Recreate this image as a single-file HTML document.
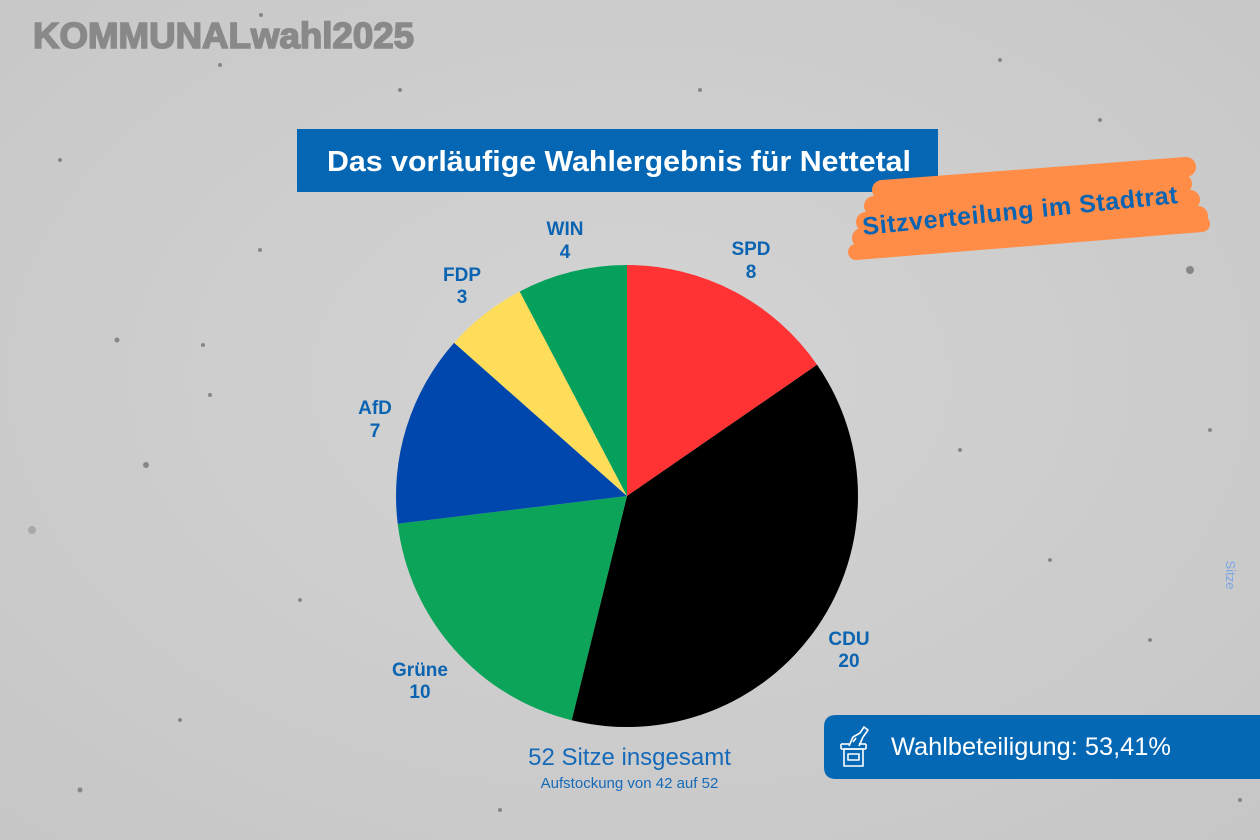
<!DOCTYPE html>
<html>
<head>
<meta charset="utf-8">
<style>
html,body{margin:0;padding:0;}
body{width:1260px;height:840px;overflow:hidden;background:#cecece;}
svg{display:block;}
</style>
</head>
<body>
<svg width="1260" height="840" viewBox="0 0 1260 840" xmlns="http://www.w3.org/2000/svg">
  <defs>
    <radialGradient id="bg" cx="50%" cy="45%" r="75%">
      <stop offset="0" stop-color="#d4d4d4"/>
      <stop offset="1" stop-color="#c6c6c6"/>
    </radialGradient>
  </defs>
  <rect x="0" y="0" width="1260" height="840" fill="url(#bg)"/>
  <!-- concrete specks -->
  <g fill="#6a6a6a" opacity="0.7">
    <circle cx="117" cy="340" r="2.5"/><circle cx="146" cy="465" r="3"/><circle cx="203" cy="345" r="2"/>
    <circle cx="210" cy="395" r="2"/><circle cx="32" cy="530" r="4" fill="#9a9a9a"/><circle cx="220" cy="65" r="2"/>
    <circle cx="261" cy="15" r="2"/><circle cx="1190" cy="270" r="4"/><circle cx="1210" cy="430" r="2"/>
    <circle cx="1100" cy="120" r="2"/><circle cx="1000" cy="60" r="2"/><circle cx="300" cy="600" r="2"/>
    <circle cx="180" cy="720" r="2"/><circle cx="80" cy="790" r="2.5"/><circle cx="960" cy="450" r="2"/>
    <circle cx="1050" cy="560" r="2"/><circle cx="700" cy="90" r="2"/><circle cx="500" cy="810" r="2"/>
    <circle cx="940" cy="720" r="2"/><circle cx="1240" cy="800" r="2"/><circle cx="260" cy="250" r="2"/>
    <circle cx="400" cy="90" r="2"/><circle cx="1150" cy="640" r="2"/><circle cx="60" cy="160" r="2"/>
  </g>

  <!-- Logo -->
  <text x="33" y="48" font-family="'Liberation Sans', Arial, sans-serif" font-weight="bold" font-size="36" fill="#898989" stroke="#898989" stroke-width="1.6" textLength="381" lengthAdjust="spacingAndGlyphs">KOMMUNALwahl2025</text>

  <!-- Title box -->
  <rect x="297" y="129" width="641" height="63" fill="#0567b4"/>
  <text x="619" y="171" text-anchor="middle" font-family="'Liberation Sans', Arial, sans-serif" font-weight="bold" font-size="29" fill="#ffffff" textLength="584" lengthAdjust="spacingAndGlyphs">Das vorläufige Wahlergebnis für Nettetal</text>

  <!-- Orange brush -->
  <g stroke="#ff8d48" stroke-linecap="round" fill="none">
    <line x1="882" y1="190" x2="1186" y2="167" stroke-width="20"/>
    <line x1="874" y1="206" x2="1182" y2="184" stroke-width="20"/>
    <line x1="866" y1="222" x2="1190" y2="200" stroke-width="20"/>
    <line x1="862" y1="238" x2="1198" y2="216" stroke-width="20"/>
    <line x1="856" y1="252" x2="1202" y2="224" stroke-width="16"/>
  </g>
  <text x="1021" y="219" text-anchor="middle" transform="rotate(-5.8 1021 219)" font-family="'Liberation Sans', Arial, sans-serif" font-weight="bold" font-size="25" fill="#0a64b2" letter-spacing="0.6">Sitzverteilung im Stadtrat</text>

  <!-- Pie -->
  <g>
    <path d="M627,496 L627,265 A231,231 0 0 1 817.1,364.8 Z" fill="#ff3333"/>
    <path d="M627,496 L817.1,364.8 A231,231 0 0 1 571.7,720.3 Z" fill="#000000"/>
    <path d="M627,496 L571.7,720.3 A231,231 0 0 1 397.7,523.8 Z" fill="#0ca459"/>
    <path d="M627,496 L397.7,523.8 A231,231 0 0 1 454.1,342.8 Z" fill="#0047ad"/>
    <path d="M627,496 L454.1,342.8 A231,231 0 0 1 519.7,291.5 Z" fill="#fedd5b"/>
    <path d="M627,496 L519.7,291.5 A231,231 0 0 1 627,265 Z" fill="#05a15c"/>
  </g>

  <!-- Labels -->
  <g font-family="'Liberation Sans', Arial, sans-serif" font-weight="bold" font-size="19" fill="#0b64b1" text-anchor="middle">
    <text x="565" y="235">WIN</text><text x="565" y="258">4</text>
    <text x="751" y="255">SPD</text><text x="751" y="278">8</text>
    <text x="462" y="281">FDP</text><text x="462" y="303">3</text>
    <text x="375" y="414">AfD</text><text x="375" y="437">7</text>
    <text x="420" y="676">Grüne</text><text x="420" y="698">10</text>
    <text x="849" y="645">CDU</text><text x="849" y="667">20</text>
  </g>

  <!-- bottom text -->
  <text x="629.5" y="765" text-anchor="middle" font-family="'Liberation Sans', Arial, sans-serif" font-size="24" fill="#166ab8">52 Sitze insgesamt</text>
  <text x="629.5" y="788" text-anchor="middle" font-family="'Liberation Sans', Arial, sans-serif" font-size="15" fill="#166ab8">Aufstockung von 42 auf 52</text>

  <!-- Sitze rotated -->
  <text x="1226" y="575" text-anchor="middle" transform="rotate(90 1226 575)" font-family="'Liberation Sans', Arial, sans-serif" font-size="13" fill="#7aa6e6">Sitze</text>

  <!-- Wahlbeteiligung box -->
  <path d="M836,715 L1260,715 L1260,779 L836,779 Q824,779 824,767 L824,727 Q824,715 836,715 Z" fill="#0568b5"/>
  <g fill="none" stroke="#ffffff" stroke-width="1.6" stroke-linejoin="round">
    <rect x="844" y="749" width="19" height="17"/>
    <rect x="848" y="754" width="11" height="6"/>
    <line x1="841" y1="749" x2="866" y2="749"/>
    <line x1="841" y1="749" x2="841" y2="744"/>
    <line x1="866" y1="749" x2="866" y2="744"/>
    <line x1="841" y1="744" x2="849" y2="744"/>
    <line x1="859" y1="744" x2="866" y2="744"/>
    <path d="M849,746 L853,737 L860,733 L864,727 L868,730 L863,737 L859,746"/>
    <line x1="853" y1="742" x2="856" y2="738"/>
  </g>
  <text x="891" y="755" font-family="'Liberation Sans', Arial, sans-serif" font-size="25" fill="#ffffff" textLength="280" lengthAdjust="spacingAndGlyphs">Wahlbeteiligung: 53,41%</text>
</svg>
</body>
</html>
